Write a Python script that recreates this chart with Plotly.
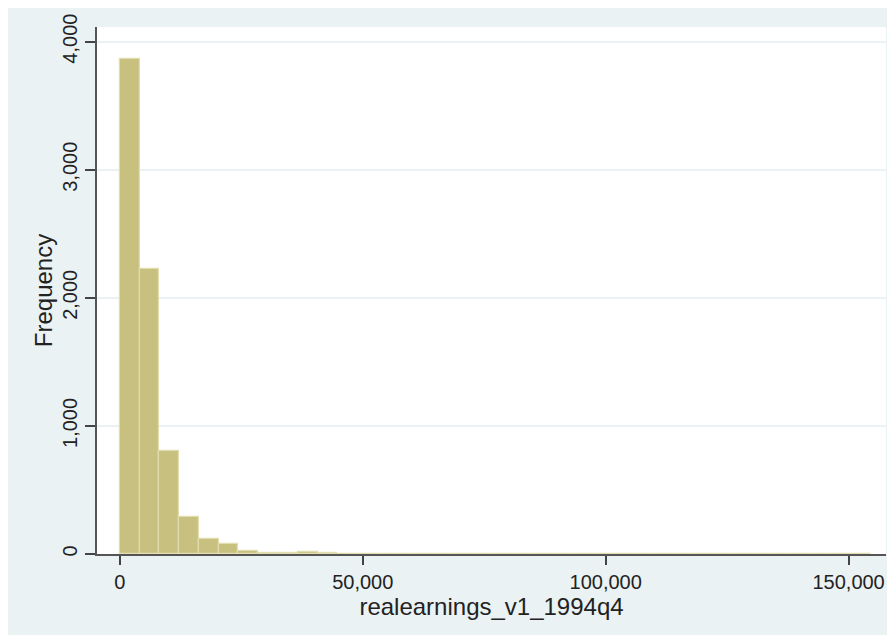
import plotly.graph_objects as go

# histogram of realearnings_v1_1994q4 (Stata default bins)
bin_start = 0
bin_width = 4070
frequency = [3864, 2225, 806, 291, 117, 75, 21, 8, 8, 12, 5,
             2, 1, 1, 1, 0, 1, 0, 0, 1, 0, 0, 0, 1, 0, 0, 0, 0,
             0, 0, 0, 0, 0, 0, 0, 0, 0, 1]
x_ticks = [0, 50000, 100000, 150000]
y_ticks = [0, 1000, 2000, 3000, 4000]

bin_mid = [bin_start + bin_width * (i + 0.5) for i in range(len(frequency))]

bg = "#eaf2f3"
fnt = "Liberation Sans, Arial, sans-serif"

fig = go.Figure()
fig.add_trace(go.Bar(
    x=bin_mid, y=frequency, width=bin_width,
    marker=dict(color="#c8c07e", line=dict(color="#e2ddb0", width=1.2)),
    hoverinfo="x+y",
))

# page body adds ~8px offset, so the figure is a bit smaller than the window
fig.update_layout(
    width=887, height=627,
    margin=dict(l=89, r=9, t=19, b=81),
    paper_bgcolor=bg,
    plot_bgcolor="white",
    showlegend=False,
    bargap=0,
    font=dict(family=fnt, size=20, color="#222222"),
)

fig.update_xaxes(
    range=[-4700, 157700],
    tickvals=x_ticks, tickformat=",",
    ticks="outside", ticklen=9, tickwidth=1.5, tickcolor="#444444",
    showline=True, linecolor="#555555", linewidth=1.5,
    showgrid=False, zeroline=False,
    title=dict(text="realearnings_v1_1994q4", standoff=0),
    automargin=False,
)
fig.update_yaxes(
    range=[0, 4114],
    tickvals=y_ticks, tickformat=",", tickangle=-90,
    ticks="outside", ticklen=10, tickwidth=1.5, tickcolor="#444444",
    showline=True, linecolor="#555555", linewidth=1.5,
    showgrid=True, gridcolor=bg, gridwidth=2,
    zeroline=False,
    title=dict(text="Frequency", standoff=0),
    automargin=False,
)

fig.write_html("out.html")
